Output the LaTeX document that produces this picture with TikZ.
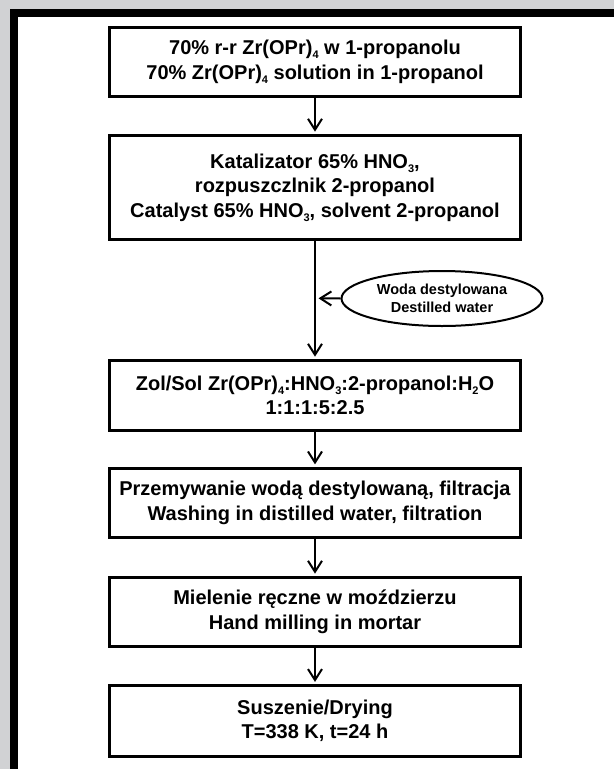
\documentclass[tikz,border=0pt]{standalone}
\usepackage{fontspec}
\setmainfont{Liberation Sans}
\usetikzlibrary{arrows.meta,shapes.geometric}
\definecolor{framegray}{HTML}{D1D2D4}
\newcommand{\sbx}[1]{\raisebox{-4pt}{\fontsize{11}{11}\selectfont #1}}
\begin{document}
\begin{tikzpicture}[x=1pt,y=-1pt,
  procbox/.style={draw=black, line width=2.7pt, minimum width=411pt, inner sep=0pt,
    align=center, font=\bfseries\fontsize{20}{24.5}\selectfont},
  oval/.style={draw=black, ellipse, line width=2pt, minimum width=201pt, minimum height=55pt,
    inner sep=0pt, align=center, font=\bfseries\fontsize{14.5}{18.5}\selectfont},
  flow/.style={line width=2pt, -{Straight Barb[length=11pt,width=14pt,line width=2pt]}, shorten >=2.5pt}
]
\useasboundingbox (0,0) rectangle (614,769);
\fill[framegray] (0,0) rectangle (614,769);
\fill[black] (10,9) rectangle (614,769);
\fill[white] (17.5,16.5) rectangle (614,769);

\node[procbox, minimum height=69pt] (b1) at (315,62)
  {70\% r-r Zr(OPr)\sbx{4} w 1-propanolu\\70\% Zr(OPr)\sbx{4} solution in 1-propanol};
\node[procbox, minimum height=104pt] (b2) at (315,187.5)
  {Katalizator 65\% HNO\sbx{3},\\rozpuszczlnik 2-propanol\\Catalyst 65\% HNO\sbx{3}, solvent 2-propanol};
\node[procbox, minimum height=70pt] (b3) at (315,395.5)
  {Zol/Sol Zr(OPr)\sbx{4}:HNO\sbx{3}:2-propanol:H\sbx{2}O\\1:1:1:5:2.5};
\node[procbox, minimum height=69pt] (b4) at (315,502.7)
  {Przemywanie wodą destylowaną, filtracja\\Washing in distilled water, filtration};
\node[procbox, minimum height=69pt] (b5) at (315,612)
  {Mielenie ręczne w moździerzu\\Hand milling in mortar};
\node[procbox, minimum height=70.5pt] (b6) at (315,721)
  {Suszenie/Drying\\T=338 K, t=24 h};

\node[oval] (w) at (442,298.5) {Woda destylowana\\Destilled water};
\coordinate (j) at (315,298.3);

\draw[flow] (b1) -- (b2);
\draw[flow] (b2) -- (b3);
\draw[flow] (b3) -- (b4);
\draw[flow] (b4) -- (b5);
\draw[flow] (b5) -- (b6);
\draw[flow, shorten >=3.5pt] (w.west) -- (j);
\end{tikzpicture}
\end{document}
